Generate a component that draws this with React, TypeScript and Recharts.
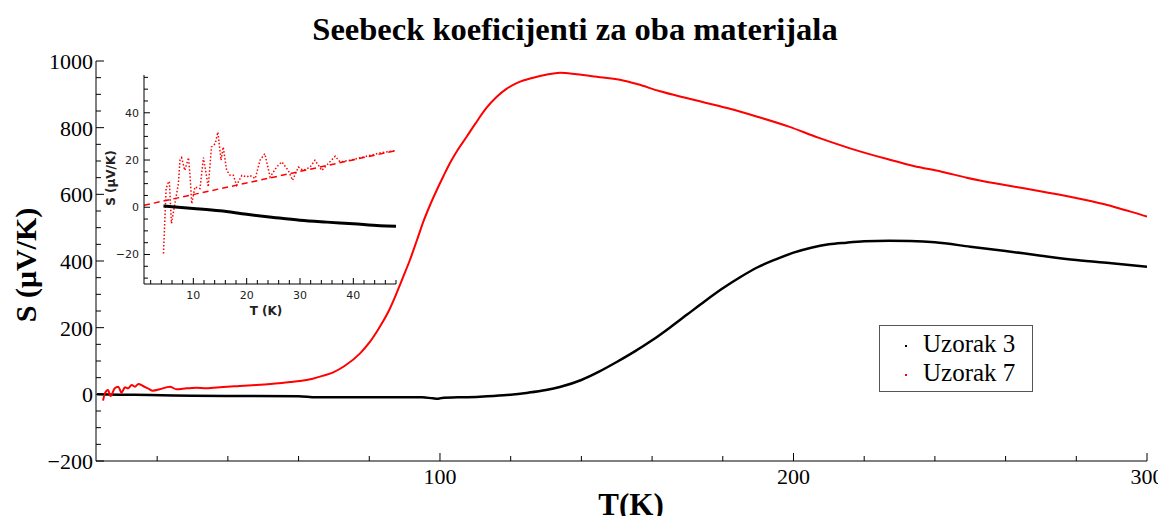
import { LineChart, Line, XAxis, YAxis } from 'recharts';

// Uzorak 3 (black), main panel
const mainT3 = [3, 10, 18, 30, 43, 60, 65, 80, 95, 98, 99.5, 101, 105, 111.3, 118, 125, 130, 133.9, 140, 145, 150, 155, 160, 165, 170, 175, 180, 185, 190, 195, 200, 205, 210, 215, 220, 227, 233, 240, 250, 260, 270, 280, 290, 300];
const mainS3 = [0, -1, -2, -4, -5, -6, -9, -9, -9, -12, -13, -10, -9, -7, -3, 5, 13, 22, 43, 68, 97, 128, 162, 200, 240, 280, 318, 352, 382, 405, 425, 440, 450, 455, 459, 461, 460, 456, 443, 430, 416, 403, 393, 383];

// Uzorak 7 (red), main panel
const mainT7 = [4.7, 5.2, 6.1, 6.8, 8, 9, 9.9, 10.9, 11.8, 12.8, 13.7, 14.7, 16, 17.4, 18.8, 20.7, 23.6, 25.5, 28.3, 31.1, 33.9, 38.6, 43.3, 48, 52.8, 57.6, 60.4, 64, 67, 69.8, 73, 77.4, 80, 83, 85.5, 87.7, 89.5, 91.5, 93.5, 95.3, 97.2, 99.1, 101, 102.8, 105, 107.5, 110, 113.2, 116, 118.9, 122, 126.4, 130, 134, 138.7, 145.3, 151.2, 156, 162, 170, 181.5, 190, 198.7, 207, 216, 226.8, 234, 241.9, 249, 257, 263, 269, 278.6, 288, 294, 298, 300];
const mainS7 = [-19, 3, 13, -5, 18, 23, 5, 21, 18, 28, 23, 31, 25, 18, 11, 15, 23, 15, 18, 20, 18, 22, 25, 28, 32, 37, 40, 47, 56, 66, 85, 123, 155, 203, 250, 303, 350, 403, 463, 518, 568, 613, 655, 693, 733, 772, 812, 860, 892, 917, 935, 950, 959, 965, 960, 951, 943, 930, 910, 888, 858, 832, 803, 770, 738, 705, 685, 668, 650, 633, 622, 611, 592, 570, 552, 540, 533];

// inset (low temperature)
const insetT3 = [4.4, 10, 15, 20, 25, 30, 35, 40, 45, 48];
const insetS3 = [0.5, -0.5, -1.5, -3, -4.3, -5.5, -6.3, -7, -7.8, -8];

const insetT7 = [4.4, 4.9, 5.2, 5.5, 5.9, 6.5, 7.2, 7.5, 7.8, 8.4, 9.1, 9.4, 9.7, 10.3, 11.25, 11.9, 12.4, 12.8, 13.4, 14.1, 14.6, 15.2, 15.6, 16.25, 16.9, 17.5, 18.1, 19.1, 20, 20.6, 21.6, 22.5, 23.4, 24.4, 25.6, 26.6, 27.8, 28.6, 29.7, 30.6, 31.9, 32.8, 34.1, 35.3, 36.6, 37.5, 39.4, 41.9, 45, 48];
const insetS7 = [-19.6, 7.9, 10, 11, -6.9, 1, 10, 20, 21, 15.6, 21, 12.8, 1.5, 8.6, 7.9, 21, 14.2, 8.6, 25.5, 26.9, 31.8, 19.9, 25.5, 15.6, 13.5, 13.5, 9.3, 13.5, 12.8, 13.5, 12.1, 19.9, 22.7, 12.8, 17, 19.2, 15.6, 11.4, 17, 15.6, 17, 19.9, 15.6, 18.5, 21.6, 19.2, 19.9, 21.3, 23, 24];

const fitT = [0.75, 48];
const fitS = [0.85, 24];

const mainXTicks = [20, 40, 60, 80, 100, 120, 140, 160, 180, 200, 220, 240, 260, 280, 300];
const mainYTicks = [-200, -150, -100, -50, 0, 50, 100, 150, 200, 250, 300, 350, 400, 450, 500, 550, 600, 650, 700, 750, 800, 850, 900, 950, 1000];
const insetXTicks = [2, 4, 6, 8, 10, 12, 14, 16, 18, 20, 22, 24, 26, 28, 30, 32, 34, 36, 38, 40, 42, 44, 46, 48];
const insetYTicks = [-30, -25, -20, -15, -10, -5, 0, 5, 10, 15, 20, 25, 30, 35, 40, 45, 50, 55];

const rows = (xs: number[], ys: number[]) => xs.map((t, i) => ({ t, s: ys[i] }));

const serif = '"Liberation Serif", "Times New Roman", serif';
const sans = '"DejaVu Sans", sans-serif';
const fmt = (v: number) => (v < 0 ? '\u2212' + Math.abs(v) : String(v));

const BottomTick = ({ x, y, payload }: any) => {
  const major = payload.value % 100 === 0;
  return (
    <g>
      <line x1={x} x2={x} y1={y} y2={y - (major ? 8 : 5)} stroke="#000" strokeWidth={1} />
      {major && (
        <text x={x} y={y + 23} textAnchor="middle" fontFamily={serif} fontSize={22} fill="#000">
          {payload.value}
        </text>
      )}
    </g>
  );
};

const TopTick = ({ x, y, payload }: any) => {
  const major = payload.value % 100 === 0;
  return <line x1={x} x2={x} y1={y} y2={y + (major ? 8 : 5)} stroke="#000" strokeWidth={1} />;
};

const LeftTick = ({ x, y, payload }: any) => {
  const major = payload.value % 200 === 0;
  return (
    <g>
      <line x1={x} x2={x + (major ? 8 : 5)} y1={y} y2={y} stroke="#000" strokeWidth={1} />
      {major && (
        <text x={x - 3} y={y + 8} textAnchor="end" fontFamily={serif} fontSize={22} fill="#000">
          {fmt(payload.value)}
        </text>
      )}
    </g>
  );
};

const RightTick = ({ x, y, payload }: any) => {
  const major = payload.value % 200 === 0;
  return <line x1={x} x2={x - (major ? 8 : 5)} y1={y} y2={y} stroke="#000" strokeWidth={1} />;
};

const InsetBottomTick = ({ x, y, payload }: any) => {
  const major = payload.value % 10 === 0;
  return (
    <g>
      <line x1={x} x2={x} y1={y} y2={y - (major ? 6 : 4)} stroke="#000" strokeWidth={1} />
      {major && (
        <text x={x} y={y + 15} textAnchor="middle" fontFamily={sans} fontSize={11} fill="#222">
          {payload.value}
        </text>
      )}
    </g>
  );
};

const InsetLeftTick = ({ x, y, payload }: any) => {
  const major = payload.value % 20 === 0;
  return (
    <g>
      <line x1={x} x2={x + (major ? 6 : 4)} y1={y} y2={y} stroke="#000" strokeWidth={1} />
      {major && (
        <text x={x - 5} y={y + 4} textAnchor="end" fontFamily={sans} fontSize={11} fill="#222">
          {fmt(payload.value)}
        </text>
      )}
    </g>
  );
};

export default function App() {
  return (
    <div style={{ position: 'relative', width: 1166, height: 524, margin: -8, background: '#fff', overflow: 'hidden' }}>
      <div
        style={{
          position: 'absolute', left: 0, top: 11, width: 1150, textAlign: 'center',
          fontFamily: serif, fontWeight: 'bold', fontSize: 32.5, lineHeight: '36px',
        }}
      >
        Seebeck koeficijenti za oba materijala
      </div>

      <LineChart width={1166} height={524} margin={{ top: 61, right: 19, bottom: 0, left: 0 }}>
        <XAxis
          xAxisId="b" type="number" dataKey="t" domain={[2.7, 300]} ticks={mainXTicks} interval={0}
          allowDataOverflow height={63} tickSize={0} tickMargin={0} tickLine={false}
          axisLine={{ stroke: '#000' }} tick={<BottomTick />}
        />
        <XAxis
          xAxisId="top" orientation="top" type="number" dataKey="t" domain={[2.7, 300]} ticks={mainXTicks}
          interval={0} allowDataOverflow height={0} tickSize={0} tickMargin={0} tickLine={false}
          axisLine={{ stroke: '#000' }} tick={<TopTick />}
        />
        <YAxis
          yAxisId="l" type="number" domain={[-200, 1000]} ticks={mainYTicks} interval={0} allowDataOverflow
          width={96} tickSize={0} tickMargin={0} tickLine={false} axisLine={{ stroke: '#000' }} tick={<LeftTick />}
        />
        <YAxis
          yAxisId="r" orientation="right" type="number" domain={[-200, 1000]} ticks={mainYTicks} interval={0}
          allowDataOverflow width={0} tickSize={0} tickMargin={0} tickLine={false}
          axisLine={{ stroke: '#000' }} tick={<RightTick />}
        />
        <Line
          xAxisId="b" yAxisId="l" data={rows(mainT3, mainS3)} dataKey="s" type="monotone"
          stroke="#000" strokeWidth={2.5} dot={false} isAnimationActive={false}
        />
        <Line
          xAxisId="b" yAxisId="l" data={rows(mainT7, mainS7)} dataKey="s" type="monotone"
          stroke="#ff0000" strokeWidth={2} dot={false} isAnimationActive={false}
        />
      </LineChart>

      <div style={{ position: 'absolute', left: 86, top: 65 }}>
        <LineChart width={314} height={260} margin={{ top: 10, right: 4, bottom: 0, left: 0 }}>
          <XAxis
            type="number" dataKey="t" domain={[0.75, 48]} ticks={insetXTicks} interval={0} allowDataOverflow
            height={41} tickSize={0} tickMargin={0} tickLine={false} axisLine={{ stroke: '#000' }}
            tick={<InsetBottomTick />}
          />
          <YAxis
            type="number" domain={[-32.5, 56]} ticks={insetYTicks} interval={0} allowDataOverflow width={58}
            tickSize={0} tickMargin={0} tickLine={false} axisLine={{ stroke: '#000' }} tick={<InsetLeftTick />}
          />
          <Line
            data={rows(fitT, fitS)} dataKey="s" type="linear" stroke="#ff0000" strokeWidth={1.5}
            strokeDasharray="6 4" dot={false} isAnimationActive={false}
          />
          <Line
            data={rows(insetT7, insetS7)} dataKey="s" type="linear" stroke="#ff0000" strokeWidth={1.5}
            strokeDasharray="1.5 2" dot={false} isAnimationActive={false}
          />
          <Line
            data={rows(insetT3, insetS3)} dataKey="s" type="monotone" stroke="#000" strokeWidth={3}
            dot={false} isAnimationActive={false}
          />
        </LineChart>
      </div>

      <div
        style={{
          position: 'absolute', left: 246, top: 303, width: 40, textAlign: 'center',
          fontFamily: sans, fontWeight: 'bold', fontSize: 12, lineHeight: '16px', color: '#222',
        }}
      >
        T (K)
      </div>
      <div
        style={{
          position: 'absolute', left: 111, top: 178, transform: 'translate(-50%, -50%) rotate(-90deg)',
          whiteSpace: 'nowrap', fontFamily: sans, fontWeight: 'bold', fontSize: 12, lineHeight: '16px', color: '#222',
        }}
      >
        S (μV/K)
      </div>

      <div
        style={{
          position: 'absolute', left: 0, top: 487, width: 1262, textAlign: 'center',
          fontFamily: serif, fontWeight: 'bold', fontSize: 31, lineHeight: '36px',
        }}
      >
        T(K)
      </div>
      <div
        style={{
          position: 'absolute', left: 26, top: 265, transform: 'translate(-50%, -50%) rotate(-90deg)',
          whiteSpace: 'nowrap', fontFamily: serif, fontWeight: 'bold', fontSize: 30, lineHeight: '34px',
        }}
      >
        S (μV/K)
      </div>

      <div
        style={{
          position: 'absolute', left: 879, top: 325, width: 152, height: 65, border: '1px solid #555',
          background: '#fff', fontFamily: serif, fontSize: 25,
        }}
      >
        {[
          { name: 'Uzorak 3', color: '#000' },
          { name: 'Uzorak 7', color: '#ff0000' },
        ].map((e, i) => (
          <div key={i} style={{ position: 'absolute', left: 25, top: 4 + i * 29, height: 28, lineHeight: '28px', whiteSpace: 'nowrap' }}>
            <span style={{ display: 'inline-block', width: 2, height: 2, background: e.color, verticalAlign: 'middle', marginRight: 16 }} />
            {e.name}
          </div>
        ))}
      </div>
    </div>
  );
}
